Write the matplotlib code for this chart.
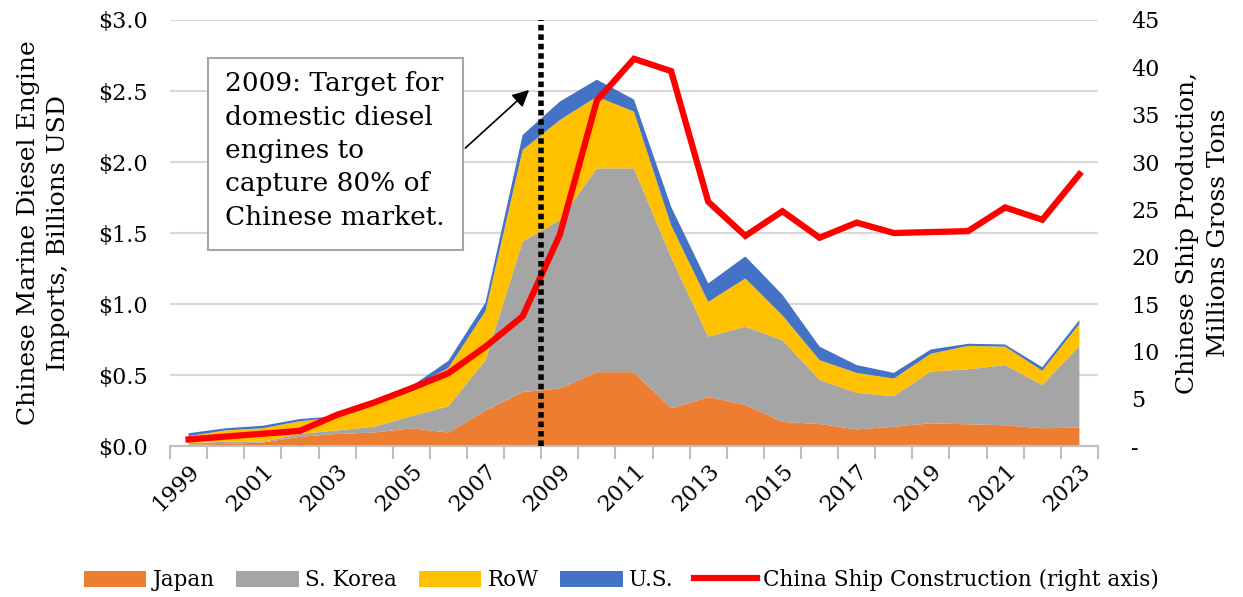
import numpy as np
import matplotlib
matplotlib.use("Agg")
import matplotlib.pyplot as plt
from matplotlib.patches import Rectangle
from matplotlib.ticker import FuncFormatter, FixedLocator

# data
years = list(range(1999, 2024))
japan = [0.01, 0.015, 0.025, 0.065, 0.085, 0.095, 0.125, 0.095, 0.25, 0.38, 0.405, 0.52, 0.52,
         0.265, 0.345, 0.29, 0.17, 0.155, 0.117, 0.136, 0.16, 0.153, 0.146, 0.125, 0.13]
korea = [0.01, 0.015, 0.005, 0.02, 0.025, 0.041, 0.085, 0.185, 0.355, 1.06, 1.185, 1.435, 1.435,
         1.065, 0.425, 0.55, 0.575, 0.31, 0.258, 0.214, 0.365, 0.387, 0.424, 0.305, 0.575]
row = [0.05, 0.08, 0.095, 0.09, 0.09, 0.164, 0.2, 0.27, 0.345, 0.645, 0.705, 0.505, 0.4,
       0.225, 0.245, 0.34, 0.175, 0.14, 0.14, 0.125, 0.125, 0.165, 0.13, 0.1, 0.155]
us = [0.02, 0.015, 0.018, 0.015, 0.01, 0.01, 0.01, 0.05, 0.06, 0.105, 0.13, 0.12, 0.085,
      0.13, 0.13, 0.155, 0.145, 0.095, 0.055, 0.04, 0.03, 0.015, 0.015, 0.025, 0.027]
ships = [0.7, 1.0, 1.3, 1.6, 3.3, 4.6, 6.1, 7.7, 10.5, 13.7, 22.3, 36.5, 40.9,
         39.6, 25.8, 22.2, 24.8, 22.0, 23.6, 22.5, 22.6, 22.7, 25.2, 23.9, 28.7]

series_names = ['Japan', 'S. Korea', 'RoW', 'U.S.']
colors = ['#ED7D31', '#A5A5A5', '#FFC000', '#4472C4']

plt.rcParams['font.family'] = ['DejaVu Serif']

fig = plt.figure(figsize=(12.43, 5.97), dpi=100)
ax = fig.add_axes([0.1368, 0.2529, 0.8833 - 0.1368, 0.9665 - 0.2529])

ax.stackplot(years, japan, korea, row, us, colors=colors, labels=series_names,
             linewidth=0, zorder=2)

ax.set_xlim(1998.5, 2023.5)
ax.set_ylim(0, 3.0)
ax.set_yticks(np.arange(0, 3.01, 0.5))
ax.yaxis.set_major_formatter(FuncFormatter(lambda v, p: '$%.1f' % v))
ax.grid(axis='y', color='#d9d9d9', lw=1.5, zorder=0)
ax.set_axisbelow(True)
for s in ['top', 'right', 'left']:
    ax.spines[s].set_visible(False)
ax.spines['bottom'].set_color('#bfbfbf')
ax.spines['bottom'].set_linewidth(1.5)
ax.tick_params(axis='y', length=0, labelsize=16, pad=16)

# tick marks between categories, labels every other year
ax.xaxis.set_minor_locator(FixedLocator(np.arange(1998.5, 2024, 1)))
ax.tick_params(axis='x', which='minor', length=9, color='#bfbfbf', width=1.5)
ax.set_xticks(years[::2])
ax.set_xticklabels([str(y) for y in years[::2]], rotation=45, ha='right',
                   rotation_mode='anchor')
ax.tick_params(axis='x', which='major', length=0, labelsize=16, pad=10)

ax.set_ylabel('Chinese Marine Diesel Engine\nImports, Billions USD', fontsize=18,
              linespacing=1.4, labelpad=20)

ax2 = ax.twinx()
ax2.plot(years, ships, color='#FF0000', lw=4.5, zorder=3,
         label='China Ship Construction (right axis)', solid_joinstyle='miter')
ax2.set_ylim(0, 45)
ax2.set_yticks(range(0, 46, 5))
ax2.yaxis.set_major_formatter(FuncFormatter(lambda v, p: '-' if v == 0 else '%d' % v))
ax2.tick_params(axis='y', length=0, labelsize=16, pad=24)
for s in ['top', 'right', 'left', 'bottom']:
    ax2.spines[s].set_visible(False)
ax2.set_ylabel('Chinese Ship Production,\nMillions Gross Tons', fontsize=18,
               linespacing=1.4, labelpad=12)

# dotted marker line for 2009 target
ax2.plot([2008.5, 2008.5], [0, 45], color='black', lw=4, linestyle=(0, (1, 0.7)),
         zorder=5)

# annotation box with arrow
rect = Rectangle((1999.51, 1.38), 2006.40 - 1999.51, 2.732 - 1.38, transform=ax.transData,
                 facecolor='white', edgecolor='#a6a6a6', lw=1.5, zorder=6)
ax2.add_patch(rect)
ax2.text(1999.98, 2.64, '2009: Target for\ndomestic diesel\nengines to\ncapture 80% of\nChinese market.',
         transform=ax.transData, ha='left', va='top', fontsize=19, linespacing=1.42, zorder=7)
ax2.annotate('', xy=(2008.23, 2.52), xycoords=ax.transData,
             xytext=(2006.40, 2.085), textcoords=ax.transData,
             arrowprops=dict(arrowstyle='-|>', color='black', lw=1.2, mutation_scale=25),
             zorder=7)

h1, l1 = ax.get_legend_handles_labels()
h2, l2 = ax2.get_legend_handles_labels()
fig.legend(h1 + h2, l1 + l2, loc='center', bbox_to_anchor=(0.5, 0.028), ncol=5,
           frameon=False, fontsize=15.5, handlelength=2.9, handleheight=0.8,
           columnspacing=1.0, handletextpad=0.3)

fig.savefig('out.png', dpi=100)
